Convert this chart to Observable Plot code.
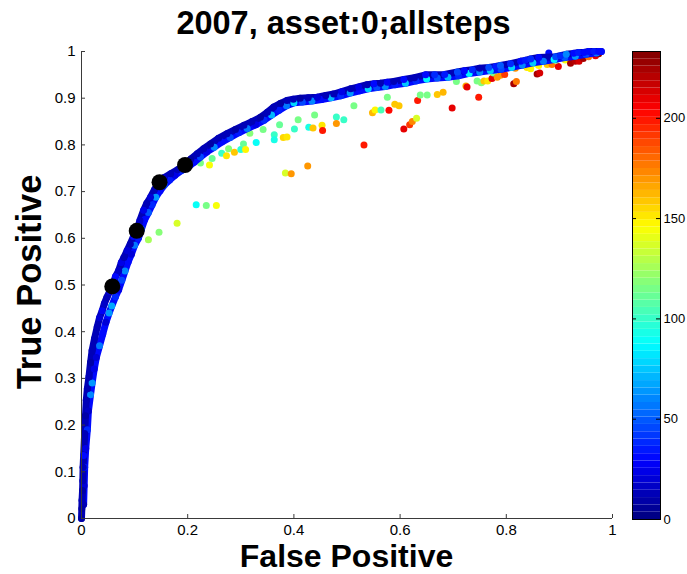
<!DOCTYPE html>
<html><head><meta charset="utf-8">
<script src="https://cdn.jsdelivr.net/npm/d3@7"></script>
<script src="https://cdn.jsdelivr.net/npm/@observablehq/plot@0.6"></script>
<style>
body{margin:0;background:#fff;}
#wrap{position:relative;width:687px;height:574px;font-family:"Liberation Sans",Arial,Helvetica,sans-serif;color:#000;overflow:hidden;}
#wrap svg{position:absolute;top:0;}
.lbl{position:absolute;font-weight:bold;line-height:0.75;white-space:nowrap;text-align:center;}
</style></head>
<body>
<div id="wrap">
  <div class="lbl" id="title" style="left:0;width:687px;top:10.5px;font-size:32.5px;">2007, asset:0;allsteps</div>
  <div class="lbl" id="xlab" style="left:81px;width:531px;top:543.9px;font-size:32px;">False Positive</div>
  <div class="lbl" id="ylab" style="left:-120px;width:300px;top:268.6px;font-size:34.5px;transform:rotate(-90deg);">True Positive</div>
</div>
<script>
// ---- data ----
const xTicks = [0, 0.2, 0.4, 0.6, 0.8, 1];
const yTicks = [0, 0.1, 0.2, 0.3, 0.4, 0.5, 0.6, 0.7, 0.8, 0.9, 1];
const cTicks = [0, 50, 100, 150, 200];
const cMax = 233.3;

// main ROC band (upper/center row)
const curveFP = [0,0.0006,0.001,0.002,0.0025,0.003,0.004,0.006,0.0075,0.009,0.011,0.014,0.017,0.020,0.0245,0.0296,0.034,0.039,0.043,0.048,0.053,0.058,0.064,0.070,0.075,0.080,0.086,0.092,0.098,0.104,0.110,0.117,0.123,0.130,0.138,0.147,0.156,0.168,0.181,0.195,0.206,0.218,0.230,0.243,0.258,0.274,0.29,0.306,0.321,0.337,0.350,0.362,0.375,0.387,0.399,0.412,0.427,0.444,0.46,0.475,0.49,0.507,0.522,0.538,0.551,0.563,0.576,0.588,0.607,0.627,0.648,0.665,0.684,0.708,0.721,0.736,0.75,0.767,0.78,0.789,0.808,0.827,0.836,0.846,0.861,0.893,0.902,0.913,0.927,0.936,0.946,0.955,0.965,0.974,0.979];
const curveTP = [0,0.021,0.039,0.06,0.081,0.11,0.135,0.182,0.22,0.253,0.278,0.303,0.334,0.36,0.385,0.41,0.43,0.445,0.46,0.474,0.486,0.497,0.518,0.531,0.548,0.559,0.574,0.588,0.604,0.616,0.638,0.66,0.675,0.688,0.705,0.72,0.730,0.738,0.747,0.757,0.770,0.781,0.792,0.802,0.814,0.824,0.833,0.842,0.850,0.859,0.870,0.881,0.889,0.895,0.898,0.9,0.901,0.902,0.906,0.909,0.914,0.92,0.924,0.929,0.931,0.932,0.934,0.936,0.94,0.944,0.95,0.95,0.951,0.956,0.959,0.961,0.964,0.966,0.968,0.97,0.974,0.979,0.981,0.984,0.987,0.989,0.991,0.994,0.996,0.998,0.998,1.0,1.0,1.0,1.0];
const curveC = [10,10,12,10,12,14,30,12,10,12,14,12,10,12,14,12,20,28,15,12,20,12,30,15,25,12,20,14,30,12,15,25,12,20,14,12,18,12,14,12,10,14,12,10,14,12,10,14,12,10,14,12,10,12,14,10,12,20,14,12,22,12,25,14,30,12,28,14,30,14,32,40,35,45,30,40,14,45,35,50,40,30,35,40,32,45,40,60,30,35,32,30,35,30,32];

// lower edge of the band
const edgeFP = [0.004,0.005,0.006,0.008,0.011,0.013,0.017,0.02,0.024,0.028,0.034,0.04,0.046,0.052,0.057,0.064,0.07,0.076,0.082,0.088,0.094,0.1,0.107,0.113,0.119,0.126,0.133,0.14,0.148,0.156,0.166,0.176,0.188,0.2,0.212,0.224,0.236,0.25,0.264,0.28,0.296,0.312,0.328,0.344,0.358,0.372,0.386,0.4,0.416,0.434,0.452,0.47,0.488,0.506,0.524,0.54,0.556,0.572,0.59,0.61,0.63,0.65,0.67,0.69,0.71,0.73,0.75,0.77,0.79,0.81,0.83,0.85,0.87,0.89,0.91,0.93,0.95,0.97];
const edgeTP = [0.03,0.07,0.11,0.15,0.19,0.23,0.265,0.29,0.32,0.345,0.37,0.395,0.42,0.44,0.455,0.475,0.49,0.51,0.53,0.55,0.566,0.585,0.6,0.62,0.64,0.655,0.672,0.688,0.702,0.714,0.725,0.735,0.745,0.752,0.763,0.774,0.785,0.795,0.806,0.816,0.826,0.835,0.843,0.853,0.864,0.874,0.884,0.89,0.892,0.894,0.897,0.901,0.905,0.911,0.916,0.92,0.923,0.925,0.929,0.932,0.937,0.941,0.943,0.945,0.948,0.953,0.956,0.959,0.962,0.966,0.971,0.976,0.979,0.983,0.987,0.99,0.994,0.997];
const edgeC = [12,20,35,25,40,18,60,65,25,20,55,30,20,65,68,40,25,45,60,30,20,55,35,45,30,50,40,62,30,45,35,25,40,70,30,45,25,60,30,45,35,55,25,40,70,35,55,80,45,60,30,72,40,65,30,80,45,60,35,75,40,85,50,70,40,85,60,75,45,80,60,75,55,85,50,65,45,55];

// scattered points off the curve
const outFP = [0.126,0.146,0.180,0.216,0.235,0.254,0.224,0.241,0.246,0.264,0.273,0.277,0.288,0.300,0.305,0.309,0.317,0.329,0.342,0.363,0.363,0.373,0.380,0.387,0.401,0.408,0.384,0.395,0.426,0.428,0.436,0.439,0.453,0.454,0.480,0.480,0.494,0.513,0.532,0.539,0.548,0.553,0.564,0.579,0.576,0.590,0.598,0.607,0.618,0.623,0.631,0.633,0.638,0.651,0.670,0.681,0.698,0.706,0.724,0.726,0.745,0.748,0.753,0.758,0.765,0.773,0.776,0.783,0.789,0.797,0.814,0.819,0.817,0.827,0.833,0.839,0.846,0.855,0.858,0.863,0.861,0.877,0.886,0.898,0.893,0.911,0.921,0.930,0.937,0.945,0.955,0.968,0.974,0.88];
const outTP = [0.597,0.613,0.632,0.672,0.670,0.670,0.761,0.757,0.771,0.782,0.777,0.792,0.784,0.790,0.802,0.790,0.825,0.805,0.833,0.822,0.811,0.843,0.816,0.817,0.834,0.854,0.740,0.738,0.755,0.838,0.836,0.864,0.842,0.831,0.860,0.846,0.854,0.884,0.800,0.921,0.869,0.875,0.875,0.874,0.902,0.887,0.884,0.834,0.843,0.850,0.857,0.895,0.907,0.907,0.908,0.913,0.879,0.936,0.926,0.924,0.937,0.902,0.933,0.937,0.937,0.942,0.954,0.945,0.949,0.951,0.931,0.936,0.964,0.970,0.970,0.966,0.963,0.974,0.952,0.954,0.970,0.972,0.972,0.968,0.981,0.982,0.975,0.979,0.979,0.985,0.989,0.991,0.995,0.997];
const outC = [125,120,135,88,115,145,115,145,112,100,150,118,158,95,112,148,118,90,115,100,92,112,155,150,102,115,138,168,170,92,158,115,150,198,102,170,102,115,200,115,162,148,105,202,115,160,158,210,192,172,135,200,115,115,158,162,210,115,165,208,115,200,118,160,150,210,115,170,170,190,225,175,170,90,115,150,148,118,225,212,148,158,175,210,118,145,225,222,212,225,175,210,228,30];

// highlighted operating points
const markFP = [0.058, 0.104, 0.147, 0.195];
const markTP = [0.497, 0.616, 0.720, 0.757];

// ---- jet colormap (64 levels, MATLAB style) ----
const clamp = v => Math.max(0, Math.min(1, v));
const jet64 = d3.range(64).map(i => {
  const t = (i + 0.5) / 64;
  return d3.rgb(255*clamp(1.5-Math.abs(4*t-3)), 255*clamp(1.5-Math.abs(4*t-2)), 255*clamp(1.5-Math.abs(4*t-1))).formatHex();
});
const jet = t => jet64[Math.max(0, Math.min(63, Math.floor(t * 64)))];

const rows = (fp, tp, c) => fp.map((x, i) => ({x, y: tp[i], c: c ? c[i] : 0}));
const curve = rows(curveFP, curveTP, curveC);
const edge = rows(edgeFP, edgeTP, edgeC);
const outs = rows(outFP, outTP, outC);
const marks = rows(markFP, markTP);

const W = 687, H = 574, mL = 81, mR = 75, mT = 51, mB = 56;
const pw = W - mL - mR, ph = H - mT - mB;
const axisCol = "#3a3a3a";
const navy = jet(12 / cMax), blue = jet(30 / cMax);

const main = Plot.plot({
  width: W, height: H,
  marginLeft: mL, marginRight: mR, marginTop: mT, marginBottom: mB,
  style: {fontFamily: "'Liberation Sans', Arial, sans-serif", fontSize: "15px", color: "#000", background: "transparent", overflow: "visible"},
  x: {domain: [0, 1]},
  y: {domain: [0, 1]},
  color: {domain: [0, cMax], interpolate: jet},
  marks: [
    Plot.axisX({ticks: xTicks, tickSize: 0, tickPadding: 6, fontSize: 15, tickFormat: d => String(d), label: null}),
    Plot.axisY({ticks: yTicks, tickSize: 0, tickPadding: 6, fontSize: 15, tickFormat: d => String(d), label: null}),
    Plot.dot(outs, {x: "x", y: "y", fill: "c", r: 3.5}),
    Plot.line(edge, {x: "x", y: "y", stroke: blue, strokeWidth: 7, strokeLinecap: "round", strokeLinejoin: "round"}),
    Plot.line(curve, {x: "x", y: "y", stroke: navy, strokeWidth: 7, strokeLinecap: "round", strokeLinejoin: "round"}),
    Plot.dot(edge, {x: "x", y: "y", fill: "c", r: 3.5}),
    Plot.dot(curve, {x: "x", y: "y", fill: "c", r: 3.5}),
    Plot.dot(marks, {x: "x", y: "y", fill: "black", r: 8}),
    Plot.ruleY([0], {stroke: axisCol}),
    Plot.ruleX([0], {stroke: axisCol}),
    Plot.tickX(xTicks, {x: d => d, insetTop: ph - 4, stroke: axisCol}),
    Plot.tickY(yTicks, {y: d => d, insetRight: pw - 4, stroke: axisCol})
  ]
});

// colorbar
const bins = d3.range(64).map(i => ({lo: i * cMax / 64, hi: (i + 1) * cMax / 64, col: jet64[i]}));
const cbW = 55, cbBar = 28;
const cbar = Plot.plot({
  width: cbW, height: H,
  marginLeft: 0, marginRight: cbW - cbBar, marginTop: 51, marginBottom: 55,
  style: {fontFamily: "'Liberation Sans', Arial, sans-serif", fontSize: "13px", color: "#000", background: "transparent", overflow: "visible"},
  x: {domain: [0, 1], axis: null},
  y: {domain: [0, cMax]},
  color: {type: "identity"},
  marks: [
    Plot.rect(bins, {x1: 0, x2: 1, y1: "lo", y2: "hi", fill: "col"}),
    Plot.axisY({anchor: "right", ticks: cTicks, tickSize: 0, tickPadding: 3, fontSize: 13, label: null}),
    Plot.tickY(cTicks, {y: d => d, insetRight: cbBar - 4, stroke: "black"}),
    Plot.tickY(cTicks, {y: d => d, insetLeft: cbBar - 4, stroke: "black"}),
    Plot.frame({stroke: "black"})
  ]
});
cbar.style.left = "632px";

const wrap = document.getElementById("wrap");
wrap.insertBefore(main, wrap.firstChild);
wrap.appendChild(cbar);
</script>
</body></html>
